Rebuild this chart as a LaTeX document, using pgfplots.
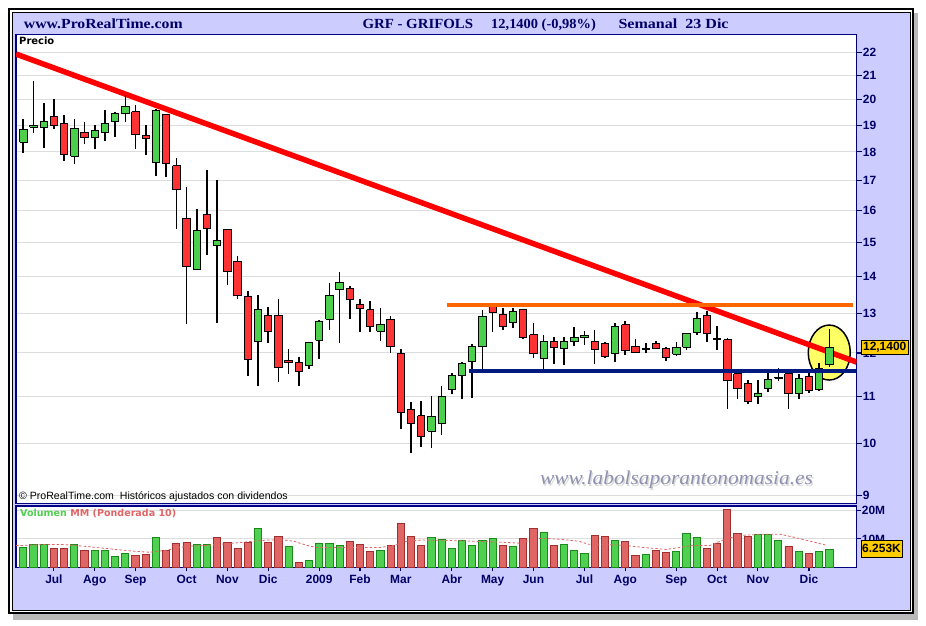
\documentclass[border=0pt]{standalone}
\usepackage{fontspec}
\setmainfont{Liberation Sans}
\newfontfamily\serifhd{Liberation Serif}
\newfontfamily\dejab{DejaVu Sans}
\usepackage{pgfplots}
\usepackage{pgfplotstable}
\usetikzlibrary{shapes.geometric}
\pgfplotsset{compat=1.18}

\definecolor{lav}{HTML}{CCCCFF}
\definecolor{navyc}{HTML}{000066}
\definecolor{panelb}{HTML}{000080}
\definecolor{cgreen}{HTML}{4CD04C}
\definecolor{cred}{HTML}{FF3333}
\definecolor{vgreen}{HTML}{50D050}
\definecolor{vgreenb}{HTML}{1A8A1A}
\definecolor{vred}{HTML}{E06666}
\definecolor{vredb}{HTML}{A03030}
\definecolor{orangel}{HTML}{FF6600}
\definecolor{bluel}{HTML}{001A80}
\definecolor{ellip}{HTML}{FFFF66}
\definecolor{lblbox}{HTML}{FFCC00}
\definecolor{wm}{HTML}{9090B0}
\definecolor{gridc}{HTML}{DDDDDD}

\pgfplotstableread{
x o h l c
0 18.35 19.24 17.98 18.85
1 18.92 20.75 18.72 19.00
2 18.91 19.89 18.16 19.13
3 19.32 20.04 18.85 19.00
4 19.08 19.41 17.67 17.92
5 17.85 19.24 17.57 18.89
6 18.74 19.13 18.28 18.55
7 18.55 19.00 18.12 18.81
8 18.74 19.60 18.39 19.08
9 19.16 19.53 18.57 19.44
10 19.44 20.20 19.11 19.72
11 19.52 19.80 18.12 18.66
12 18.62 19.00 17.88 18.51
13 17.61 19.65 17.16 19.56
14 19.40 19.42 17.10 17.58
15 17.51 17.78 15.41 16.70
16 15.74 16.78 12.72 14.29
17 14.20 16.04 14.20 15.37
18 15.87 17.37 14.63 15.43
19 14.90 17.00 12.76 15.05
20 15.40 15.42 13.76 14.15
21 14.44 14.58 13.37 13.48
22 13.45 13.60 11.45 11.85
23 12.29 13.48 11.22 13.10
24 12.95 13.16 12.24 12.52
25 12.95 13.39 11.32 11.65
26 11.83 12.10 11.50 11.78
27 11.78 11.90 11.22 11.55
28 11.69 12.28 11.62 12.26
29 12.31 12.82 11.85 12.80
30 12.85 13.83 12.57 13.48
31 13.63 14.12 12.24 13.83
32 13.68 13.74 12.85 13.36
33 13.23 13.39 12.53 13.13
34 13.09 13.32 12.53 12.66
35 12.54 13.13 12.29 12.71
36 12.84 12.93 12.00 12.15
37 11.98 12.09 10.29 10.65
38 10.70 10.87 9.80 10.42
39 10.57 10.89 9.93 10.14
40 10.25 11.01 9.90 10.55
41 10.40 11.23 10.18 10.99
42 11.14 11.53 11.04 11.46
43 11.46 11.79 10.93 11.74
44 11.79 12.22 10.95 12.17
45 12.15 13.09 11.63 12.93
46 13.22 13.27 12.52 13.03
47 12.97 13.14 12.57 12.65
48 12.77 13.14 12.62 13.05
49 13.10 13.12 12.34 12.37
50 12.45 12.75 11.88 12.00
51 11.88 12.45 11.61 12.27
52 12.29 12.40 11.74 12.14
53 12.12 12.40 11.72 12.27
54 12.27 12.65 12.17 12.37
55 12.37 12.55 12.19 12.42
56 12.29 12.57 11.74 12.09
57 12.24 12.26 11.88 11.92
58 11.99 12.75 11.78 12.67
59 12.70 12.80 11.95 12.07
60 12.17 12.34 12.00 12.02
61 12.09 12.24 11.99 12.12
62 12.24 12.29 12.09 12.12
63 12.12 12.14 11.81 11.90
64 11.97 12.27 11.92 12.14
65 12.14 12.50 12.07 12.47
66 12.50 13.03 12.45 12.87
67 12.95 13.05 12.27 12.47
68 12.35 12.67 12.07 12.33
69 12.32 12.37 10.72 11.35
70 11.51 11.52 10.94 11.18
71 11.28 11.37 10.83 10.89
72 11.00 11.37 10.83 11.07
73 11.18 11.62 11.09 11.37
74 11.41 11.64 11.35 11.43
75 11.51 11.52 10.72 11.07
76 11.07 11.51 10.94 11.39
77 11.44 11.56 11.07 11.12
78 11.14 11.76 11.12 11.64
79 11.72 12.60 11.67 12.14
}\pricedata

\pgfplotstableread{
x v
0 7.0
1 8.1
2 8.1
5 8.1
7 6.0
8 6.0
9 3.9
10 4.9
13 10.6
17 8.1
18 8.1
23 13.7
26 7.4
28 2.5
29 8.5
30 8.5
31 7.7
35 6.0
40 10.6
41 9.9
42 6.7
43 9.5
44 7.7
45 9.5
46 10.2
48 7.4
51 12.3
53 8.1
54 6.0
55 4.9
58 9.5
61 4.6
64 5.6
65 12.0
66 10.6
72 11.6
73 11.6
74 9.5
76 5.6
78 5.6
79 6.3
}\volg

\pgfplotstableread{
x v
3 6.7
4 6.7
6 6.0
11 4.2
12 4.6
14 6.0
15 8.5
16 8.8
19 10.6
20 8.8
21 6.7
22 8.8
24 8.8
25 10.9
27 1.8
32 9.2
33 8.1
34 5.6
36 7.7
37 15.5
38 10.9
39 7.7
47 7.7
49 10.2
50 13.7
52 7.7
56 11.3
57 10.9
59 9.2
60 4.2
62 6.0
63 5.3
67 6.7
68 8.5
69 20.4
70 12.0
71 10.9
75 7.4
77 4.9
}\volr

\pgfplotstableread{
x m
-0.7 7.7
0 7.7
2 8.0
4 8.0
6 7.4
9 6.3
11 5.6
12.4 5.3
14 6.0
16 7.4
18 7.7
20.6 8.5
22.6 9.2
24 9.6
25.5 9.6
26.5 9.2
27.8 7.7
28.7 7.0
30 7.0
35 7.0
36.3 7.7
37.6 9.2
39 9.6
41 9.5
44 9.2
47 8.8
48.6 8.5
50.5 10.2
52.5 9.9
54.4 9.2
55.4 8.1
57 8.1
59 7.7
60.7 7.0
63 6.3
64.4 7.0
65.7 7.7
67.3 7.7
69 10.2
70.6 11.3
72.3 11.6
74.2 11.6
75.5 10.6
77.1 9.2
78.8 7.7
}\volma

\begin{document}
\begin{tikzpicture}
\useasboundingbox (0bp,0bp) rectangle (926bp,626bp);
\fill[white] (0bp,0bp) rectangle (926bp,626bp);
% shadow and frame
\fill[gray!55] (13bp,6bp) rectangle (918bp,613bp);
\draw[black, line width=2bp, fill=white] (9bp,12.5bp) rectangle (913bp,617bp);
\draw[black, line width=1bp, fill=lav] (12.5bp,15bp) rectangle (910.5bp,613.5bp);

% ---------- price panel ----------
\begin{axis}[
  at={(16bp,122.7bp)}, anchor=south west, scale only axis,
  width=840.7bp, height=469bp,
  axis background/.style={fill=white},
  ymode=log, ymin=8.862, ymax=22.82,
  xmin=-0.715, xmax=81.68,
  xtick=\empty,
  ytick={9,10,11,12,13,14,15,16,17,18,19,20,21,22},
  yticklabels={9,10,11,12,13,14,15,16,17,18,19,20,21,22},
  minor tick num=0,
  ytick pos=right, yticklabel pos=right,
  tick align=outside, major tick length=5bp,
  tick style={draw=navyc, line width=1.1bp},
  ymajorgrids, grid style={draw=gridc, line width=1bp},
  axis line style={draw=panelb, line width=1.3bp},
  yticklabel style={text=navyc, font=\bfseries\fontsize{12}{12}\selectfont, inner sep=1bp},
]
\node[ellipse, fill=ellip, draw=black, line width=1.5bp, inner sep=0pt, minimum width=42bp, minimum height=55bp] at (axis cs:78.99,12.01) {};
\addplot[red, line width=5.5bp, forget plot] coordinates {(-0.715,21.93) (81.68,11.78)};
\pgfplotsinvokeforeach{0,...,79}{%
  \pgfplotstablegetelem{#1}{o}\of\pricedata\edef\candO{\pgfplotsretval}%
  \pgfplotstablegetelem{#1}{h}\of\pricedata\edef\candH{\pgfplotsretval}%
  \pgfplotstablegetelem{#1}{l}\of\pricedata\edef\candL{\pgfplotsretval}%
  \pgfplotstablegetelem{#1}{c}\of\pricedata\edef\candC{\pgfplotsretval}%
  \pgfmathtruncatemacro\isdown{\candC<\candO}%
  \ifnum\isdown=1 \def\cfill{cred}\else\def\cfill{cgreen}\fi
  \pgfmathsetmacro\xa{#1-0.36}%
  \pgfmathsetmacro\xb{#1+0.36}%
  \edef\tmp{%
    \noexpand\addplot[black, line width=1.6bp, forget plot] coordinates {(#1,\candL) (#1,\candH)};%
    \noexpand\addplot[fill=\cfill, draw=black, line width=0.9bp, forget plot] coordinates {(\xa,\candO) (\xb,\candO) (\xb,\candC) (\xa,\candC) (\xa,\candO)};%
  }\tmp
}
\addplot[orangel, line width=4bp, forget plot] coordinates {(41.57,13.22) (81.3,13.22)};
\addplot[bluel, line width=4bp, forget plot] coordinates {(43.7,11.58) (81.68,11.58)};
\end{axis}

% ---------- volume panel ----------
\begin{axis}[
  at={(16bp,58.7bp)}, anchor=south west, scale only axis,
  width=840.7bp, height=61.3bp,
  axis background/.style={fill=white},
  xmin=-0.715, xmax=81.68, ymin=0, ymax=21.58,
  ytick={10,20}, yticklabels={10M,20M},
  ytick pos=right, yticklabel pos=right,
  xtick={3,7,11,16,20,24,29,33,37,42,46,50,55,59,64,68,72,77},
  xticklabels={Jul,Ago,Sep,Oct,Nov,Dic,2009,Feb,Mar,Abr,May,Jun,Jul,Ago,Sep,Oct,Nov,Dic},
  xtick pos=bottom,
  tick align=outside, major tick length=4bp,
  tick style={draw=navyc, line width=1.1bp},
  ymajorgrids, grid style={draw=gridc, line width=1bp},
  axis line style={draw=panelb, line width=1.3bp},
  yticklabel style={text=navyc, font=\bfseries\fontsize{12}{12}\selectfont, inner sep=1bp},
  xticklabel style={text=navyc, font=\bfseries\fontsize{12}{12}\selectfont},
]
\addplot[ybar, bar width=7.2bp, bar shift=0pt, fill=vgreen, draw=vgreenb, line width=0.9bp] table[x=x,y=v]{\volg};
\addplot[ybar, bar width=7.2bp, bar shift=0pt, fill=vred, draw=vredb, line width=0.9bp] table[x=x,y=v]{\volr};
\addplot[vred, line width=0.8bp, dash pattern=on 2.5bp off 2bp] table[x=x,y=m]{\volma};
\end{axis}

% ---------- texts ----------
\node[anchor=base west, inner sep=0, text=navyc, font=\serifhd\bfseries\fontsize{14}{16}\selectfont, xscale=1.13] at (23.7bp,597.3bp) {www.ProRealTime.com};
\node[anchor=base west, inner sep=0, text=navyc, font=\serifhd\bfseries\fontsize{14}{16}\selectfont, xscale=1.065] at (362.3bp,597.3bp) {GRF - GRIFOLS};
\node[anchor=base west, inner sep=0, text=navyc, font=\serifhd\bfseries\fontsize{14}{16}\selectfont, xscale=1.035] at (491bp,597.3bp) {12,1400 (-0,98\%)};
\node[anchor=base west, inner sep=0, text=navyc, font=\serifhd\bfseries\fontsize{14}{16}\selectfont, xscale=1.15] at (618.3bp,597.3bp) {Semanal\ \ 23 Dic};

\node[anchor=west, inner sep=0, font=\dejab\bfseries\fontsize{10}{12}\selectfont] at (19bp,585bp) {Precio};
\node[anchor=west, inner sep=0, font=\fontsize{10.6}{12}\selectfont] at (19bp,129.5bp) {© ProRealTime.com\ \ Históricos ajustados con dividendos};
\node[anchor=west, inner sep=0, font=\dejab\bfseries\fontsize{9.6}{11}\selectfont] at (20bp,112.5bp) {\textcolor{vgreen}{Volumen} \textcolor{vred}{MM (Ponderada 10)}};

\node[anchor=base west, inner sep=0, font=\serifhd\itshape\fontsize{19.5}{22}\selectfont, text=gray!30, xscale=1.1] at (541.2bp,139.8bp) {www.labolsaporantonomasia.es};
\node[anchor=base west, inner sep=0, font=\serifhd\itshape\fontsize{19.5}{22}\selectfont, text=wm, xscale=1.1] at (540bp,141bp) {www.labolsaporantonomasia.es};

\node[fill=lblbox, draw=black, line width=0.8bp, inner sep=0, minimum width=47bp, minimum height=14bp, font=\bfseries\fontsize{12}{12}\selectfont] at (884.7bp,278.5bp) {12,1400};
\node[fill=lblbox, draw=black, line width=0.8bp, inner sep=0, minimum width=41bp, minimum height=17bp, font=\bfseries\fontsize{12}{12}\selectfont] at (881.5bp,77.5bp) {6.253K};
\end{tikzpicture}
\end{document}
